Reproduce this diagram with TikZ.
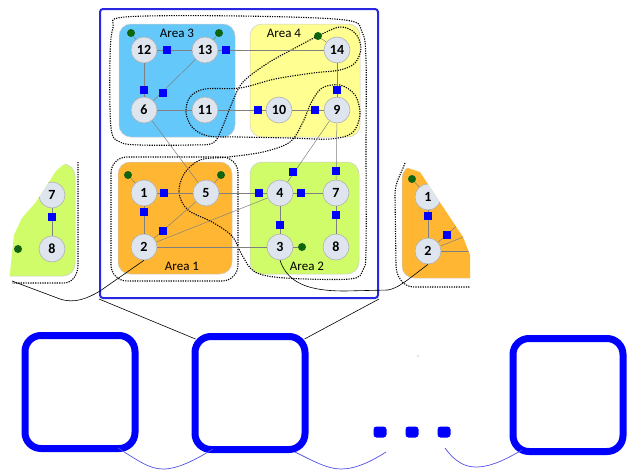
\documentclass[tikz,border=0pt]{standalone}
\usepackage{fontspec}
\setmainfont{Carlito}
\usetikzlibrary{calc}
\definecolor{areaone}{RGB}{255,183,51}
\definecolor{areatwo}{RGB}{208,252,105}
\definecolor{areathree}{RGB}{100,200,250}
\definecolor{areafour}{RGB}{255,255,145}
\definecolor{busfill}{RGB}{222,229,239}
\definecolor{sqblue}{RGB}{0,0,255}
\definecolor{dotgreen}{RGB}{15,100,15}
\definecolor{frameblue}{RGB}{40,40,225}
\definecolor{linkblue}{RGB}{80,80,230}
\tikzset{
 bus/.style={circle, fill=busfill, draw=gray!60, line width=0.6pt, minimum size=26pt, inner sep=0pt, font=\fontsize{14}{15}\selectfont\bfseries},
 meter/.style={rectangle, fill=sqblue, minimum size=8.5pt, inner sep=0pt},
 gdot/.style={circle, fill=dotgreen, minimum size=8pt, inner sep=0pt},
 edge/.style={draw=gray, line width=0.5pt},
 areabox/.style={rounded corners=12pt, draw=gray!40, line width=0.5pt},
 arealabel/.style={font=\fontsize{13}{15}\selectfont, inner sep=0pt},
 cluster/.style={dash pattern=on 1.2pt off 1.2pt, line width=1.1pt},
 bigbox/.style={draw=sqblue, line width=7pt, rounded corners=16pt, minimum width=110pt, minimum height=113pt, inner sep=0pt},
 bluedot/.style={fill=sqblue, rounded corners=3pt, minimum width=13pt, minimum height=11pt, inner sep=0pt},
 blackline/.style={draw=black, line width=0.6pt},
 bluelink/.style={draw=linkblue, line width=0.7pt}
}
\begin{document}
\begin{tikzpicture}[x=1pt,y=-1pt]
\useasboundingbox (0,0) rectangle (634,471);

% ---------- left partial (Area 2 copy) ----------
\begin{scope}
\clip (8,292) -- (14,235) -- (22,218) -- (36,202) -- (56,171) -- (63,165) -- (82,158) -- (82,292) -- cycle;
\begin{scope}[shift={(-284,2)}]
\fill[areatwo, areabox] (250,162) rectangle (359,274);
\node[bus] (l7) at (336,193) {7};
\node[bus] (l8) at (336,247) {8};
\node[gdot] (lg3) at (302,247) {};
\draw[edge] (l7) -- (l8);
\node[meter] (ls78) at (336,215) {};
\end{scope}
\end{scope}
\draw[cluster] (78,162) -- (78,265) to[out=-90,in=0] (64,283) -- (12,283);

% ---------- right partial (Area 1 copy) ----------
\begin{scope}
\clip (395,160) -- (408,168) -- (420,172) -- (437,198) -- (453,222) -- (463,237) -- (470,255) -- (470,292) -- (395,292) -- cycle;
\begin{scope}[shift={(284,4)}]
\fill[areaone, areabox] (118,162) rectangle (232,274);
\coordinate (r5) at (206,193);
\coordinate (r4) at (280,193);
\coordinate (r3) at (280,247);
\node[bus] (r1) at (144,193) {1};
\node[bus] (r2) at (144,247) {2};
\node[gdot] (rg1) at (128,175) {};
\draw[edge] (r1) -- (r2);
\draw[edge] (r2) -- (r5);
\draw[edge] (r2) -- (r4);
\draw[edge] (r2) -- (r3);
\draw[edge] (r1) -- (rg1);
\node[meter] (rs12) at (144,212) {};
\node[meter] (rs25) at (163,231) {};
\end{scope}
\end{scope}
\draw[cluster] (405,163) to[out=250,in=90] (395,195) -- (396,265) to[out=-90,in=180] (414,287) -- (470,287);

% ---------- areas ----------
\fill[areathree, areabox] (119,24) rectangle (235,137);
\fill[areafour, areabox] (250,24) rectangle (360,137);
\fill[areaone, areabox] (118,162) rectangle (232,274);
\fill[areatwo, areabox] (250,162) rectangle (359,274);
\node[arealabel] (la3) at (177,33) {Area 3};
\node[arealabel] (la4) at (284,33) {Area 4};
\node[arealabel] (la1) at (182,266) {Area 1};
\node[arealabel] (la2) at (307,266) {Area 2};

% ---------- dotted clusters ----------
\draw[cluster] plot[smooth cycle, tension=0.55] coordinates {
(213,143) (222,128) (232,103) (243,82) (268,63) (295,48) (318,36) (340,27) (355,33) (361,48) (355,63) (340,70) (313,73) (275,79) (240,88) (205,89) (190,97) (186,112) (192,127) (208,136) (240,137) (290,138) (330,139) (352,133) (360,115) (355,95) (340,85) (322,88) (311,103) (303,122) (290,142) (263,152) (228,157) (200,160) (184,174) (179,193) (188,210) (212,222) (232,236) (242,255) (255,272) (285,278) (350,279) (363,270) (366,250) (366,150) (366,60) (362,32) (345,20) (240,16) (125,17) (113,28) (110,60) (111,128) (120,142) (140,145) (190,145)};
\draw[cluster, rounded corners=16pt] (111,157) rectangle (238,281);

% ---------- buses ----------
\node[bus] (n12) at (144,50) {12};
\node[bus] (n13) at (205,50) {13};
\node[bus] (n14) at (337,50) {14};
\node[bus] (n6) at (144,110) {6};
\node[bus] (n11) at (205,110) {11};
\node[bus] (n10) at (279,110) {10};
\node[bus] (n9) at (337,110) {9};
\node[bus] (n1) at (144,193) {1};
\node[bus] (n5) at (206,193) {5};
\node[bus] (n4) at (280,193) {4};
\node[bus] (n7) at (336,193) {7};
\node[bus] (n2) at (144,247) {2};
\node[bus] (n3) at (280,247) {3};
\node[bus] (n8) at (336,247) {8};

\node[gdot] (g12) at (131,33) {};
\node[gdot] (g13) at (219,33) {};
\node[gdot] (g14) at (318,36) {};
\node[gdot] (g1) at (128,175) {};
\node[gdot] (g5) at (221,175) {};
\node[gdot] (g3) at (302,247) {};

% ---------- edges ----------
\foreach \a/\b in {n12/n13, n13/n14, n12/n6, n13/n6, n6/n11, n11/n10, n10/n9, n14/n9, n6/n5, n9/n4, n9/n7, n1/n5, n1/n2, n2/n5, n2/n4, n5/n4, n4/n7, n4/n3, n7/n8, n2/n3, n12/g12, n13/g13, n14/g14, n1/g1, n5/g5, n3/g3}
  \draw[edge] (\a) -- (\b);

% ---------- meters ----------
\node[meter] (s1213) at (167,50) {};
\node[meter] (s1314) at (226,50) {};
\node[meter] (s126) at (144,90) {};
\node[meter] (s136) at (163,93) {};
\node[meter] (s1110) at (258,110) {};
\node[meter] (s109) at (315,110) {};
\node[meter] (s149) at (337,90) {};
\node[meter] (s15) at (164,193) {};
\node[meter] (s12) at (144,212) {};
\node[meter] (s25) at (163,231) {};
\node[meter] (s54) at (259,193) {};
\node[meter] (s47) at (301,193) {};
\node[meter] (s94) at (293,172) {};
\node[meter] (s97) at (336,171) {};
\node[meter] (s43) at (280,225) {};
\node[meter] (s78) at (336,215) {};

% ---------- frame ----------
\node[draw=frameblue, line width=2pt, rounded corners=3pt, minimum width=278pt, minimum height=289pt, inner sep=0pt] (frame) at (239,153.5) {};

% ---------- solid tie lines ----------
\coordinate (lfree) at (12,281);
\draw[blackline] (lfree) -- (60,299) .. controls (75,304) and (88,298) .. (100,291) -- (n2.south);
\draw[blackline] (n3.south) .. controls (288,284) and (310,291) .. (345,291) -- (388,290) .. controls (398,288) and (405,282) .. (r2.south);

% ---------- bottom boxes ----------
\node[bigbox] (box1) at (80,392) {};
\node[bigbox] (box2) at (250,393) {};
\node[bigbox] (box3) at (568,395) {};
\node[bluedot] (d1) at (380,432) {};
\node[bluedot] (d2) at (412,432) {};
\node[bluedot] (d3) at (444,432) {};
\fill[gray] (418,356) circle (0.7);

\draw[blackline] (frame.south west) -- ($(box2.north west)+(4,6)$);
\draw[blackline] (frame.south east) -- ($(box2.north east)+(-4,6)$);

\coordinate (c1a) at (118,448);
\coordinate (c1b) at (213,449);
\coordinate (c2a) at (295,452);
\coordinate (c2b) at (386,452);
\coordinate (c3a) at (445,448);
\coordinate (c3b) at (522,450);
\draw[bluelink] (c1a) .. controls (140,462) and (150,469) .. (163,469) .. controls (178,469) and (195,460) .. (c1b);
\draw[bluelink] (c2a) .. controls (315,462) and (328,469) .. (341,469) .. controls (356,469) and (372,461) .. (c2b);
\draw[bluelink] (c3a) .. controls (455,462) and (465,467) .. (476,467) .. controls (492,467) and (508,458) .. (c3b);
\end{tikzpicture}
\end{document}
